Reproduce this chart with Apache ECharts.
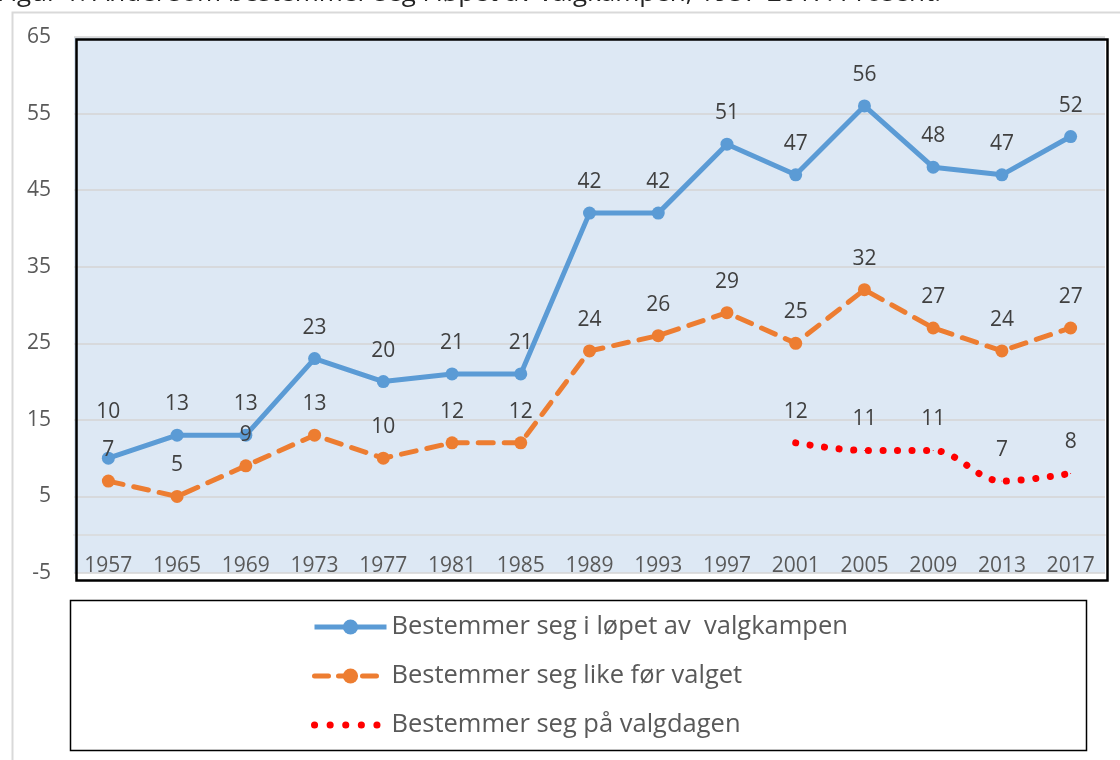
<!DOCTYPE html>
<html>
<head>
<meta charset="utf-8">
<script src="https://cdn.jsdelivr.net/npm/echarts@6/dist/echarts.min.js"></script>
<style>
  html, body { margin: 0; padding: 0; background: #fff; }
  #chart { width: 1120px; height: 760px; }
</style>
</head>
<body>
<div id="chart"></div>
<script>
const years = ['1957', '1965', '1969', '1973', '1977', '1981', '1985', '1989', '1993', '1997', '2001', '2005', '2009', '2013', '2017']
const underveis = [10, 13, 13, 23, 20, 21, 21, 42, 42, 51, 47, 56, 48, 47, 52]
const likeFoer = [7, 5, 9, 13, 10, 12, 12, 24, 26, 29, 25, 32, 27, 24, 27]
const valgdagen = [null, null, null, null, null, null, null, null, null, null, 12, 11, 11, 7, 8]
const yTicks = { min: -5, max: 65, step: 10 }

const names = ['Bestemmer seg i løpet av  valgkampen', 'Bestemmer seg like før valget', 'Bestemmer seg på valgdagen']

const chart = echarts.init(document.getElementById('chart'))

const labelStyle = {
  show: true,
  position: 'top',
  distance: 14,
  fontSize: 21,
  color: '#404040',
  fontFamily: 'Open Sans'
}

// the first label of the blue line sits higher in the original, clear of the "7"
const underveisData = underveis.map((v, i) => i === 0 ? { value: v, label: { offset: [0, -15] } } : v)

const option = {
  animation: false,
  backgroundColor: '#fff',
  textStyle: { fontFamily: 'Open Sans' },
  title: {
    text: 'Figur 1. Andel som bestemmer seg i løpet av valgkampen, 1957-2017. Prosent.',
    left: -3,
    top: -19,
    padding: 0,
    textStyle: { fontSize: 26, fontWeight: 'normal', color: '#222', fontFamily: 'Open Sans' }
  },
  graphic: [
    { type: 'rect', left: 10, top: 10, shape: { width: 1200, height: 800 }, style: { fill: 'none', stroke: '#d9d9d9', lineWidth: 2 }, z: -10 },
    { type: 'rect', left: 68, top: 598, shape: { width: 1016, height: 150 }, style: { fill: 'none', stroke: '#000', lineWidth: 1.5 }, z: 10 },
    { type: 'rect', left: 74, top: 37, shape: { width: 1031, height: 541 }, style: { fill: 'none', stroke: '#000', lineWidth: 2.5 }, z: 10 }
  ],
  grid: {
    left: 74,
    right: 15,
    top: 37,
    bottom: 187,
    show: true,
    backgroundColor: '#dde8f4',
    borderWidth: 0
  },
  legend: {
    orient: 'vertical',
    left: 306,
    top: 609,
    itemGap: 23,
    itemWidth: 72,
    itemHeight: 19,
    textStyle: { fontSize: 25.5, color: '#595959', fontFamily: 'Open Sans' },
    data: [
      { name: names[0], lineStyle: { width: 5 } },
      { name: names[1], lineStyle: { width: 5, type: [14, 10] } },
      { name: names[2], lineStyle: { width: 7, type: [0.1, 15.5], cap: 'round' }, itemStyle: { opacity: 0 } }
    ]
  },
  xAxis: {
    type: 'category',
    data: years,
    boundaryGap: true,
    axisLine: { onZero: true, lineStyle: { color: '#d9d9d9', width: 1.5 } },
    axisTick: { show: false },
    axisLabel: { fontSize: 21, color: '#595959', margin: -17, interval: 0 }
  },
  yAxis: {
    type: 'value',
    min: yTicks.min,
    max: yTicks.max,
    interval: yTicks.step,
    axisLine: { show: false },
    axisTick: { show: false },
    axisLabel: { fontSize: 21, color: '#595959', margin: 23 },
    splitLine: { lineStyle: { color: '#d4d4d4', width: 1.5 } }
  },
  series: [
    {
      name: names[0],
      type: 'line',
      data: underveisData,
      symbol: 'circle',
      symbolSize: 13,
      color: '#5b9bd5',
      lineStyle: { width: 5, color: '#5b9bd5' },
      itemStyle: { color: '#5b9bd5' },
      label: labelStyle,
      z: 3
    },
    {
      name: names[1],
      type: 'line',
      data: likeFoer,
      symbol: 'circle',
      symbolSize: 13,
      color: '#ed7d31',
      lineStyle: { width: 5, color: '#ed7d31', type: [15, 11], cap: 'round' },
      itemStyle: { color: '#ed7d31' },
      label: labelStyle,
      z: 4
    },
    {
      name: names[2],
      type: 'line',
      data: valgdagen,
      smooth: 0.35,
      symbol: 'circle',
      symbolSize: 1,
      color: '#ff0000',
      lineStyle: { width: 7, color: '#ff0000', type: [0.1, 14.5], cap: 'round' },
      itemStyle: { color: '#ff0000' },
      label: Object.assign({}, labelStyle, { distance: 20 }),
      z: 2
    }
  ]
}

chart.setOption(option)
</script>
</body>
</html>
